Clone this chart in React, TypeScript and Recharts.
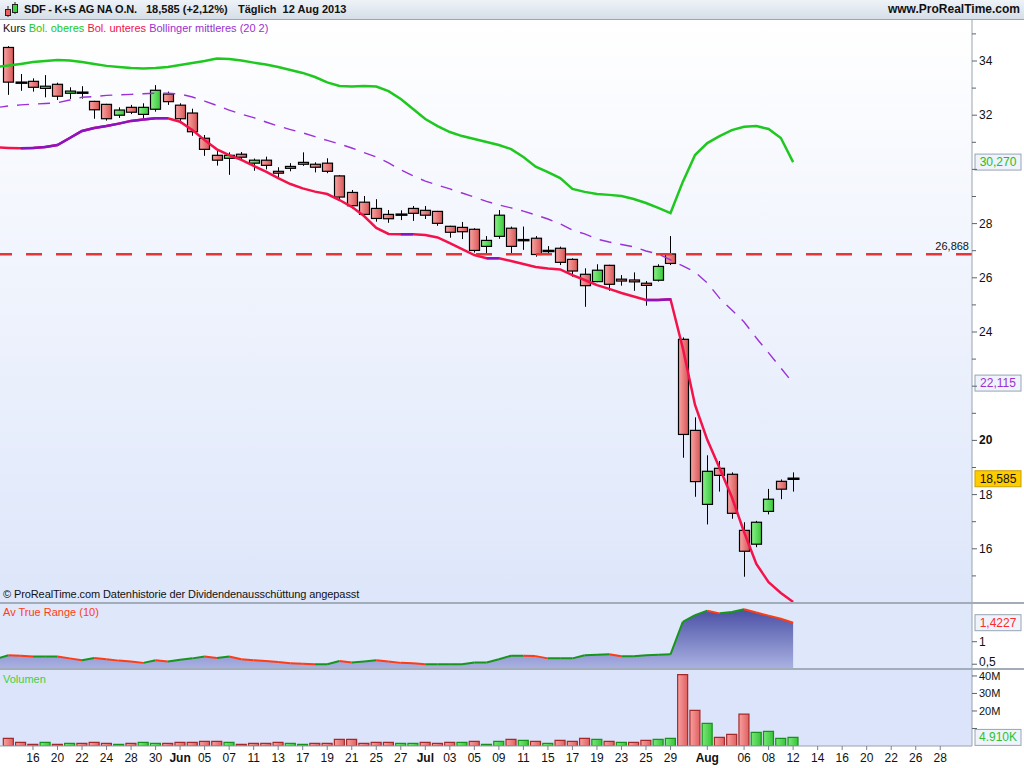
import React from 'react';
import { ComposedChart, Bar, Line, Area, XAxis, YAxis, ReferenceLine, Cell } from 'recharts';

// K+S AG (SDF) daily candles, Xetra, 14 May - 12 Aug 2013
const open = [
  34.5, 33.2, 33.25, 32.99, 33.14, 32.81, 32.83, 32.51, 32.4, 32.0,
  32.29, 32.03, 32.22, 32.78, 32.37, 32.08, 31.15, 30.52, 30.41, 30.56,
  30.23, 30.34, 29.93, 30.11, 30.26, 30.19, 30.23, 29.76, 29.15, 28.79,
  28.56, 28.34, 28.33, 28.56, 28.49, 28.45, 27.9, 27.86, 27.79, 27.16,
  27.53, 27.83, 27.39, 27.46, 26.99, 27.09, 26.68, 26.13, 25.86, 26.46,
  25.95, 25.92, 25.8, 25.91, 26.88, 23.73, 20.37, 17.64, 18.97, 18.75,
  16.68, 16.17, 17.38, 18.49, 18.585,
];
const high = [
  34.55, 33.52, 33.36, 33.48, 33.2, 33.03, 33.07, 32.53, 32.42, 32.29,
  32.38, 32.44, 33.11, 32.87, 32.44, 32.24, 31.27, 30.69, 30.63, 30.64,
  30.4, 30.47, 30.08, 30.23, 30.63, 30.26, 30.41, 29.79, 29.24, 29.02,
  28.9, 28.5, 28.49, 28.65, 28.65, 28.47, 27.92, 28.06, 27.83, 27.54,
  28.5, 27.89, 27.89, 27.54, 27.17, 27.15, 26.72, 26.35, 26.5, 26.48,
  26.1, 26.2, 25.88, 26.5, 27.54, 23.8, 20.85, 19.45, 19.24, 18.82,
  16.98, 17.03, 18.21, 18.56, 18.82,
];
const low = [
  32.75, 32.9, 32.87, 32.66, 32.56, 32.6, 32.61, 31.87, 31.8, 31.9,
  32.04, 31.87, 32.13, 32.38, 31.7, 31.24, 30.5, 30.14, 29.8, 30.32,
  29.95, 30.0, 29.7, 29.93, 30.13, 29.89, 29.86, 28.87, 28.56, 28.29,
  28.07, 28.03, 28.13, 28.1, 28.17, 27.92, 27.48, 27.43, 26.93, 26.9,
  27.44, 26.9, 27.03, 26.78, 26.87, 26.47, 26.04, 24.93, 25.84, 25.52,
  25.71, 25.52, 24.97, 25.86, 26.47, 19.36, 17.92, 16.9, 18.11, 17.11,
  14.97, 16.06, 17.27, 17.83, 18.11,
];
const close = [
  33.22, 33.2, 33.03, 33.07, 32.7, 32.89, 32.83, 32.2, 31.87, 32.19,
  32.11, 32.29, 32.92, 32.5, 31.87, 31.39, 30.74, 30.34, 30.52, 30.45,
  30.34, 30.15, 29.86, 30.04, 30.19, 30.08, 29.93, 28.98, 28.66, 28.34,
  28.19, 28.18, 28.33, 28.38, 28.31, 28.01, 27.68, 27.7, 27.01, 27.38,
  28.31, 27.16, 27.39, 26.86, 26.99, 26.57, 26.25, 25.71, 26.28, 25.76,
  25.88, 25.85, 25.72, 26.42, 26.53, 20.22, 18.48, 18.86, 18.71, 17.31,
  15.91, 16.98, 17.83, 18.2, 18.585,
];
// volume in millions
const volume = [
  4.38, 2.1, 0.95, 2.1, 0.95, 1.52, 1.52, 2.1, 1.52, 0.95,
  1.52, 2.1, 1.52, 1.52, 2.1, 2.1, 2.67, 2.67, 2.1, 0.95,
  1.52, 1.52, 2.1, 1.52, 0.95, 1.52, 1.52, 3.81, 3.81, 1.52,
  2.1, 2.1, 1.52, 1.52, 2.1, 1.52, 2.1, 2.1, 2.67, 0.95,
  2.67, 3.81, 3.24, 2.67, 1.52, 3.24, 2.67, 4.38, 3.81, 2.67,
  2.1, 2.1, 3.24, 3.81, 4.38, 40.8, 20.3, 12.95, 4.95, 6.67,
  18.2, 7.81, 8.38, 4.38, 4.91,
];

// indicators start one session earlier (13 May) so they run into the left edge
const bolUpper = [
  33.78,
  33.83, 33.89, 33.96, 34.0, 34.04, 34.02, 33.96, 33.89, 33.82, 33.78,
  33.74, 33.72, 33.74, 33.78, 33.85, 33.93, 34.0, 34.09, 34.07, 34.02,
  33.94, 33.87, 33.78, 33.67, 33.56, 33.41, 33.21, 33.08, 33.06, 33.08,
  33.06, 32.89, 32.6, 32.23, 31.86, 31.6, 31.38, 31.23, 31.12, 31.01,
  30.9, 30.75, 30.46, 30.1, 29.9, 29.68, 29.28, 29.17, 29.09, 29.06,
  29.02, 28.91, 28.76, 28.58, 28.39, 29.54, 30.53, 30.97, 31.23, 31.45,
  31.57, 31.6, 31.49, 31.16, 30.27,
];
const bolMiddle = [
  32.28,
  32.34, 32.38, 32.41, 32.43, 32.46, 32.56, 32.66, 32.69, 32.73, 32.75,
  32.77, 32.79, 32.81, 32.81, 32.78, 32.67, 32.52, 32.36, 32.19, 32.04,
  31.91, 31.75, 31.6, 31.47, 31.35, 31.21, 31.07, 30.94, 30.79, 30.62,
  30.46, 30.24, 29.98, 29.76, 29.57, 29.42, 29.28, 29.13, 28.98, 28.82,
  28.69, 28.58, 28.46, 28.32, 28.17, 27.99, 27.76, 27.62, 27.43, 27.32,
  27.23, 27.14, 26.99, 26.88, 26.66, 26.44, 26.21, 25.81, 25.25, 24.81,
  24.37, 23.78, 23.23, 22.67, 22.115,
];
const bolLower = [
  30.81,
  30.79, 30.78, 30.79, 30.83, 30.9, 31.16, 31.42, 31.53, 31.6, 31.69,
  31.79, 31.84, 31.89, 31.89, 31.76, 31.45, 31.08, 30.74, 30.53, 30.35,
  30.13, 29.92, 29.68, 29.46, 29.3, 29.18, 29.09, 28.87, 28.62, 28.28,
  27.84, 27.62, 27.61, 27.61, 27.58, 27.49, 27.28, 27.06, 26.84, 26.72,
  26.72, 26.62, 26.51, 26.4, 26.34, 26.31, 26.1, 25.92, 25.73, 25.59,
  25.44, 25.31, 25.18, 25.18, 25.21, 23.41, 21.31, 20.02, 18.98, 17.91,
  16.62, 15.44, 14.77, 14.37, 14.04,
];
const atr = [
  0.62,
  0.7, 0.69, 0.67, 0.67, 0.67, 0.63, 0.59, 0.64, 0.61, 0.58,
  0.56, 0.53, 0.59, 0.56, 0.6, 0.63, 0.67, 0.64, 0.67, 0.61,
  0.59, 0.57, 0.55, 0.52, 0.51, 0.5, 0.5, 0.57, 0.54, 0.56,
  0.59, 0.56, 0.53, 0.52, 0.5, 0.5, 0.5, 0.5, 0.54, 0.54,
  0.61, 0.69, 0.69, 0.68, 0.63, 0.63, 0.63, 0.7, 0.71, 0.72,
  0.675, 0.675, 0.7, 0.71, 0.72, 1.44, 1.59, 1.69, 1.63, 1.66,
  1.72, 1.65, 1.58, 1.51, 1.4227,
];

// date axis: session index -> label (bold ones are month starts)
const xTicks = [2, 4, 6, 8, 10, 12, 14, 16, 18, 20, 22, 24, 26, 28, 30, 32, 34, 36, 38, 40, 42, 44, 46, 48, 50, 52, 54, 57, 60, 62, 64, 66, 68, 70, 72, 74, 76];
const xTickLabels = ['16', '20', '22', '24', '28', '30', 'Jun', '05', '07', '11', '13', '17', '19', '21', '25', '27', 'Jul', '03', '05', '09', '11', '15', '17', '19', '23', '25', '29', 'Aug', '06', '08', '12', '14', '16', '20', '22', '26', '28'];

const supportLevel = 26.868;

const W = 1024;
const AXIS_W = 52;
const ATR_H = 64;
const X_DOMAIN: [number, number] = [-0.69, 78.59];
const FONT = '"Liberation Sans", Arial, sans-serif';

// split a line into 3 interleaved series so that only selected segments get drawn
const pickSegments = (vals: number[], keep: (a: number, b: number) => boolean) =>
  [0, 1, 2].map((k) => {
    const out: (number | null)[] = vals.map(() => null);
    for (let i = 0; i < vals.length - 1; i++) {
      if (i % 3 === k && keep(vals[i], vals[i + 1])) {
        out[i] = vals[i];
        out[i + 1] = vals[i + 1];
      }
    }
    return out;
  });

const lowerRising = pickSegments(bolLower, (a, b) => b >= a);
const atrUp = pickSegments(atr, (a, b) => b >= a);
const atrDown = pickSegments(atr, (a, b) => b < a);

const rows = bolUpper.map((_, k) => {
  const i = k - 1;
  const has = i >= 0;
  const prevClose = i > 0 ? close[i - 1] : open[0];
  return {
    x: i,
    open: has ? open[i] : null,
    high: has ? high[i] : null,
    low: has ? low[i] : null,
    close: has ? close[i] : null,
    range: has ? [low[i], high[i]] : null,
    vol: has ? volume[i] : null,
    volUp: has ? close[i] >= prevClose : false,
    upper: bolUpper[k],
    mid: bolMiddle[k],
    lower: bolLower[k],
    lp0: lowerRising[0][k],
    lp1: lowerRising[1][k],
    lp2: lowerRising[2][k],
    atr: atr[k],
    au0: atrUp[0][k],
    au1: atrUp[1][k],
    au2: atrUp[2][k],
    ad0: atrDown[0][k],
    ad1: atrDown[1][k],
    ad2: atrDown[2][k],
  };
});
const volRows = rows.filter((r) => r.x >= 0);

const last = close.length - 1;
const lastBand = bolUpper.length - 1;

const fmt = (v: number, d: number) => v.toFixed(d).replace('.', ',');

// axis labels that sit under a value tag are covered in the original
const priceTags = [bolUpper[lastBand], bolMiddle[lastBand], close[last]];
const volTags = [volume[last]];

const Candle = (p: any) => {
  const d = p.payload;
  if (!d || d.open == null || !isFinite(p.y) || !isFinite(p.height)) return null;
  const span = d.high - d.low;
  const py = (v: number) => p.y + ((d.high - v) / span) * p.height;
  const cx = Math.round(p.x + p.width / 2) + 0.5;
  if (d.open === d.close) {
    const yc = py(d.close);
    return (
      <g>
        <line x1={cx} x2={cx} y1={p.y} y2={p.y + p.height} stroke="#000" />
        <line x1={cx - 6} x2={cx + 6} y1={yc} y2={yc} stroke="#000" strokeWidth={2.5} />
      </g>
    );
  }
  const up = d.close > d.open;
  const top = py(Math.max(d.open, d.close));
  const bot = py(Math.min(d.open, d.close));
  return (
    <g>
      <line x1={cx} x2={cx} y1={p.y} y2={p.y + p.height} stroke="#000" />
      <rect
        x={cx - 5}
        y={top}
        width={10}
        height={Math.max(1.5, bot - top)}
        fill={up ? 'url(#candleUp)' : 'url(#candleDown)'}
        stroke="#000"
        strokeWidth={1.2}
      />
    </g>
  );
};

const PriceTick = (p: any) => {
  const v = p.payload.value;
  const major = v % 2 === 0;
  const covered = priceTags.some((t) => Math.abs(t - v) < 0.45);
  return (
    <g>
      <line x1={p.x} x2={p.x + (major ? 5 : 4)} y1={p.y} y2={p.y} stroke="#5a6270" />
      {major && !covered && (
        <text x={p.x + 7} y={p.y + 4} fontSize={12} fontFamily={FONT} fontWeight={v % 10 === 0 ? 'bold' : 'normal'} fill="#111">
          {v}
        </text>
      )}
    </g>
  );
};

const AtrTick = (p: any) => {
  const v = p.payload.value;
  return (
    <g>
      <line x1={p.x} x2={p.x + 5} y1={p.y} y2={p.y} stroke="#5a6270" />
      <text x={p.x + 7} y={Math.min(p.y + 4, ATR_H - 2)} fontSize={12} fontFamily={FONT} fill="#111">
        {String(v).replace('.', ',')}
      </text>
    </g>
  );
};

const VolTick = (p: any) => {
  const v = p.payload.value;
  const covered = volTags.some((t) => Math.abs(t - v) < 5.5);
  return (
    <g>
      <line x1={p.x} x2={p.x + 5} y1={p.y} y2={p.y} stroke="#5a6270" />
      {!covered && (
        <text x={p.x + 7} y={p.y + 4} fontSize={11} fontFamily={FONT} fill="#111">
          {v}M
        </text>
      )}
    </g>
  );
};

const DateTick = (p: any) => {
  const idx = xTicks.indexOf(p.payload.value);
  const label = xTickLabels[idx] ?? '';
  const month = /[A-Za-z]/.test(label);
  return (
    <g>
      <line x1={p.x} x2={p.x} y1={p.y} y2={p.y + 4} stroke="#7a8290" />
      <text x={p.x} y={p.y + 16} textAnchor="middle" fontSize={12} fontFamily={FONT} fontWeight={month ? 'bold' : 'normal'} fill="#111">
        {label}
      </text>
    </g>
  );
};

const makeTag = (text: string, color: string, bg: string, border: string) => (p: any) => {
  const vb = p.viewBox;
  if (!vb) return null;
  const x0 = vb.x + vb.width + 3;
  return (
    <g>
      <rect x={x0} y={vb.y - 8} width={46} height={16} fill={bg} stroke={border} />
      <text x={x0 + 23} y={vb.y + 4} textAnchor="middle" fontSize={12} fontFamily={FONT} fill={color}>
        {text}
      </text>
    </g>
  );
};

const SupportLabel = (p: any) => {
  const vb = p.viewBox;
  if (!vb) return null;
  return (
    <text x={vb.x + vb.width - 3} y={vb.y - 4} textAnchor="end" fontSize={11} fontFamily={FONT} fill="#111">
      {fmt(supportLevel, 3)}
    </text>
  );
};

const App = () => {
  return (
    <div style={{ position: 'relative', width: W, height: 768, background: '#fff', fontFamily: FONT, overflow: 'hidden' }}>
      <style>{'body{margin:0}'}</style>

      {/* title bar */}
      <div
        style={{
          position: 'absolute', left: 0, top: 0, width: W, height: 19,
          background: 'linear-gradient(#eef3f8, #d6dee8)', borderBottom: '1px solid #9aa6b4',
          fontSize: 11, fontWeight: 'bold', color: '#111', lineHeight: '19px', whiteSpace: 'nowrap',
        }}
      >
        <svg width={18} height={18} style={{ position: 'absolute', left: 2, top: 1 }}>
          <line x1={6} x2={6} y1={5} y2={16} stroke="#222" />
          <rect x={3.5} y={8.5} width={5} height={6} fill="#e86060" stroke="#222" />
          <line x1={13} x2={13} y1={1} y2={13} stroke="#222" />
          <rect x={10.5} y={3.5} width={5} height={8} fill="#40d040" stroke="#222" />
        </svg>
        <span style={{ position: 'absolute', left: 24, letterSpacing: -0.2 }}>SDF - K+S AG NA O.N.</span>
        <span style={{ position: 'absolute', left: 146 }}>{fmt(close[last], 3)} (+2,12%)</span>
        <span style={{ position: 'absolute', left: 238 }}>Täglich&nbsp; 12 Aug 2013</span>
        <span style={{ position: 'absolute', right: 4, fontSize: 12 }}>www.ProRealTime.com</span>
      </div>

      {/* panel backgrounds */}
      <div style={{ position: 'absolute', left: 0, top: 20, width: W - AXIS_W, height: 582, background: 'linear-gradient(#ffffff, #dde6fa)' }} />
      <div style={{ position: 'absolute', left: 0, top: 602, width: W, height: 2, background: '#a3acb9' }} />
      <div style={{ position: 'absolute', left: 0, top: 604, width: W - AXIS_W, height: ATR_H, background: '#dfe7fb' }} />
      <div style={{ position: 'absolute', left: 0, top: 668, width: W, height: 2, background: '#a3acb9' }} />
      <div style={{ position: 'absolute', left: 0, top: 670, width: W - AXIS_W, height: 76, background: '#dbe4fb' }} />

      {/* price panel */}
      <div style={{ position: 'absolute', left: 0, top: 20 }}>
        <ComposedChart width={W} height={582} data={rows} margin={{ top: 0, right: 0, bottom: 0, left: 0 }}>
          <defs>
            <linearGradient id="candleUp" x1="0" y1="0" x2="1" y2="0">
              <stop offset="0%" stopColor="#8af08a" />
              <stop offset="100%" stopColor="#38c838" />
            </linearGradient>
            <linearGradient id="candleDown" x1="0" y1="0" x2="1" y2="0">
              <stop offset="0%" stopColor="#f8a4a4" />
              <stop offset="100%" stopColor="#d85656" />
            </linearGradient>
          </defs>
          <XAxis dataKey="x" type="number" domain={X_DOMAIN} allowDataOverflow hide />
          <YAxis
            orientation="right"
            width={AXIS_W}
            domain={[14.037, 35.513]}
            allowDataOverflow
            ticks={[15, 16, 17, 18, 19, 20, 21, 22, 23, 24, 25, 26, 27, 28, 29, 30, 31, 32, 33, 34, 35]}
            interval={0}
            tick={<PriceTick />}
            tickSize={0}
            tickMargin={0}
            tickLine={false}
            axisLine={{ stroke: '#9aa4b2' }}
          />
          <Bar dataKey="range" barSize={10} shape={<Candle />} isAnimationActive={false} />
          <Line dataKey="upper" type="linear" stroke="#1ec81e" strokeWidth={2.5} dot={false} activeDot={false} isAnimationActive={false} />
          <Line dataKey="mid" type="linear" stroke="#9b30d8" strokeWidth={1.4} strokeDasharray="12 9" dot={false} activeDot={false} isAnimationActive={false} />
          <Line dataKey="lower" type="linear" stroke="#f4124a" strokeWidth={2.5} dot={false} activeDot={false} isAnimationActive={false} />
          {['lp0', 'lp1', 'lp2'].map((k) => (
            <Line key={k} dataKey={k} type="linear" stroke="#8a14c4" strokeWidth={2.5} dot={false} activeDot={false} isAnimationActive={false} />
          ))}
          <ReferenceLine y={supportLevel} stroke="#e53535" strokeWidth={2.5} strokeDasharray="16 14" label={<SupportLabel />} />
          <ReferenceLine y={bolUpper[lastBand]} stroke="none" label={makeTag(fmt(bolUpper[lastBand], 3), '#20c020', '#eef3fc', '#98a4b4')} />
          <ReferenceLine y={bolMiddle[lastBand]} stroke="none" label={makeTag(fmt(bolMiddle[lastBand], 3), '#9a30d0', '#eef3fc', '#98a4b4')} />
          <ReferenceLine y={close[last]} stroke="none" label={makeTag(fmt(close[last], 3), '#111', '#ffcc00', '#c9a000')} />
        </ComposedChart>
      </div>

      {/* legend + footnote of price panel */}
      <div style={{ position: 'absolute', left: 3, top: 22, fontSize: 11, whiteSpace: 'nowrap' }}>
        <span style={{ color: '#111' }}>Kurs </span>
        <span style={{ color: '#22c822' }}>Bol. oberes </span>
        <span style={{ color: '#f0124a' }}>Bol. unteres </span>
        <span style={{ color: '#9a30d0' }}>Bollinger mittleres (20 2)</span>
      </div>
      <div style={{ position: 'absolute', left: 3, top: 588, fontSize: 11, color: '#111', whiteSpace: 'nowrap', letterSpacing: -0.1 }}>
        © ProRealTime.com Datenhistorie der Dividendenausschüttung angepasst
      </div>

      {/* ATR panel */}
      <div style={{ position: 'absolute', left: 0, top: 604 }}>
        <ComposedChart width={W} height={ATR_H} data={rows} margin={{ top: 0, right: 0, bottom: 0, left: 0 }}>
          <defs>
            <linearGradient id="atrFill" x1="0" y1="0" x2="0" y2="1">
              <stop offset="0%" stopColor="#4a50a4" />
              <stop offset="100%" stopColor="#a9b1e2" />
            </linearGradient>
          </defs>
          <XAxis dataKey="x" type="number" domain={X_DOMAIN} allowDataOverflow hide />
          <YAxis
            orientation="right"
            width={AXIS_W}
            domain={[0.416, 1.838]}
            allowDataOverflow
            ticks={[0.5, 1]}
            interval={0}
            tick={<AtrTick />}
            tickSize={0}
            tickMargin={0}
            tickLine={false}
            axisLine={{ stroke: '#9aa4b2' }}
          />
          <Area dataKey="atr" type="linear" stroke="none" fill="url(#atrFill)" fillOpacity={1} dot={false} activeDot={false} isAnimationActive={false} />
          {['au0', 'au1', 'au2'].map((k) => (
            <Line key={k} dataKey={k} type="linear" stroke="#18961c" strokeWidth={2} dot={false} activeDot={false} isAnimationActive={false} />
          ))}
          {['ad0', 'ad1', 'ad2'].map((k) => (
            <Line key={k} dataKey={k} type="linear" stroke="#ff3c12" strokeWidth={2} dot={false} activeDot={false} isAnimationActive={false} />
          ))}
          <ReferenceLine y={atr[lastBand]} stroke="none" label={makeTag(fmt(atr[lastBand], 4), '#ff2a2a', '#eef3fc', '#98a4b4')} />
        </ComposedChart>
      </div>
      <div style={{ position: 'absolute', left: 3, top: 606, fontSize: 11, color: '#ff3c12' }}>Av True Range (10)</div>

      {/* volume panel with the date axis */}
      <div style={{ position: 'absolute', left: 0, top: 670 }}>
        <ComposedChart width={W} height={98} data={volRows} margin={{ top: 0, right: 0, bottom: 0, left: 0 }}>
          <defs>
            <linearGradient id="volUp" x1="0" y1="0" x2="1" y2="0">
              <stop offset="0%" stopColor="#78e878" />
              <stop offset="100%" stopColor="#38c438" />
            </linearGradient>
            <linearGradient id="volDown" x1="0" y1="0" x2="1" y2="0">
              <stop offset="0%" stopColor="#f8a0a0" />
              <stop offset="100%" stopColor="#e06060" />
            </linearGradient>
          </defs>
          <XAxis
            dataKey="x"
            type="number"
            domain={X_DOMAIN}
            allowDataOverflow
            ticks={xTicks}
            interval={0}
            height={22}
            tick={<DateTick />}
            tickSize={0}
            tickMargin={0}
            tickLine={false}
            axisLine={{ stroke: '#9aa4b2' }}
          />
          <YAxis
            orientation="right"
            width={AXIS_W}
            domain={[0, 43.4]}
            allowDataOverflow
            ticks={[10, 20, 30, 40]}
            interval={0}
            tick={<VolTick />}
            tickSize={0}
            tickMargin={0}
            tickLine={false}
            axisLine={{ stroke: '#9aa4b2' }}
          />
          <Bar dataKey="vol" barSize={10} isAnimationActive={false}>
            {volRows.map((r, i) => (
              <Cell key={i} fill={r.volUp ? 'url(#volUp)' : 'url(#volDown)'} stroke={r.volUp ? '#16921a' : '#a42a2a'} strokeWidth={1.2} />
            ))}
          </Bar>
          <ReferenceLine
            y={volume[last]}
            stroke="none"
            label={makeTag(Math.round(volume[last] * 1000).toLocaleString('de-DE') + 'K', '#30c030', '#eef3fc', '#98a4b4')}
          />
        </ComposedChart>
      </div>
      <div style={{ position: 'absolute', left: 3, top: 673, fontSize: 11, color: '#40d040' }}>Volumen</div>
    </div>
  );
};

export default App;
